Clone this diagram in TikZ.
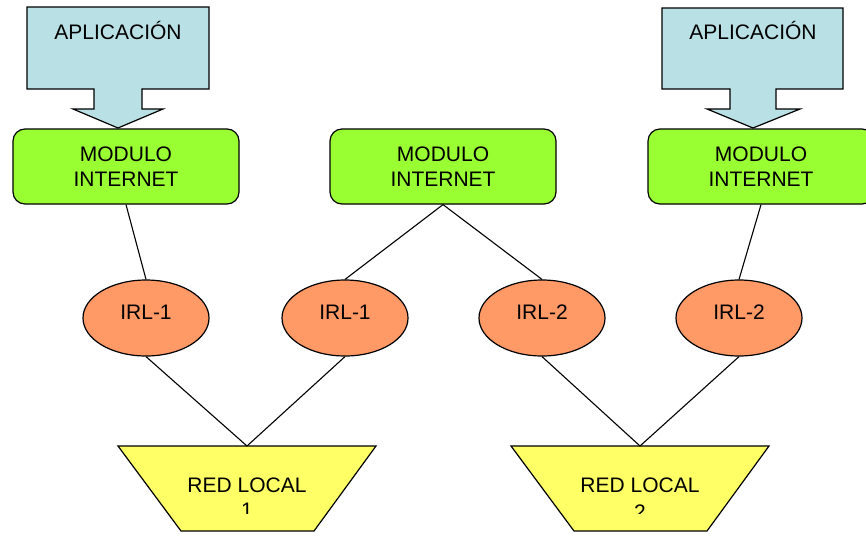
\documentclass[tikz,border=0pt]{standalone}
\usepackage{fontspec}
\setmainfont{Liberation Sans}
\usetikzlibrary{shapes.geometric}
\definecolor{appblue}{HTML}{B9E0E4}
\definecolor{modgreen}{HTML}{99FF33}
\definecolor{irlorange}{HTML}{FF9966}
\definecolor{lanyellow}{HTML}{FFFF66}
\tikzset{
  outline/.style={draw=black, line width=1.2pt, line join=miter},
  txt/.style={font=\fontsize{21}{25}\selectfont, inner sep=0pt, text=black},
  modbox/.style={outline, fill=modgreen, rounded corners=12pt,
    minimum width=226pt, minimum height=75pt, align=center, txt},
  irl/.style={outline, fill=irlorange, ellipse, minimum width=126pt,
    minimum height=76pt, txt, text height=15pt, text depth=12pt},
  link/.style={draw=black, line width=1.1pt},
}
\begin{document}
\begin{tikzpicture}[x=1pt,y=-1pt]
\useasboundingbox (0,0) rectangle (866,538);

% application boxes with their down-pointing arrows
\draw[outline, fill=appblue] (27,7) -- (209,7) -- (209,89) -- (142,89) -- (142,109)
  -- (163,109) -- (118,128) -- (73,109) -- (94,109) -- (94,89) -- (27,89) -- cycle;
\node[txt, anchor=base] (app1) at (118,39) {APLICACIÓN};
\draw[outline, fill=appblue] (662,8) -- (843,8) -- (843,89) -- (776,89) -- (776,109)
  -- (800,109) -- (753,128) -- (707,109) -- (730,109) -- (730,89) -- (662,89) -- cycle;
\node[txt, anchor=base] (app2) at (753,39) {APLICACIÓN};

% internet modules
\node[modbox] (mod1) at (126,166.5) {MODULO\\INTERNET};
\node[modbox] (mod2) at (443,166.5) {MODULO\\INTERNET};
\node[modbox] (mod3) at (761,166.5) {MODULO\\INTERNET};

% IRL interfaces
\node[irl] (irl1) at (146,318) {IRL-1};
\node[irl] (irl2) at (345,318) {IRL-1};
\node[irl] (irl3) at (542,318) {IRL-2};
\node[irl] (irl4) at (739,318) {IRL-2};

% local networks
\draw[outline, fill=lanyellow] (118,446) -- (376,446) -- (314,531) -- (181,531) -- cycle;
\coordinate (lan1) at (247,446);
\draw[outline, fill=lanyellow] (511,446) -- (769,446) -- (707,531) -- (574,531) -- cycle;
\coordinate (lan2) at (640,446);
\node[txt, anchor=base] (lan1a) at (247,492) {RED LOCAL};
\node[txt, anchor=base] (lan2a) at (640,492) {RED LOCAL};
\begin{scope}
  \clip (0,0) rectangle (866,513);
  \node[txt, anchor=base] (lan1b) at (247,517) {1};
  \node[txt, anchor=base] (lan2b) at (640,519) {2};
\end{scope}

% links
\draw[link] (mod1.south) -- (irl1.north);
\draw[link] (mod2.south) -- (irl2.north);
\draw[link] (mod2.south) -- (irl3.north);
\draw[link] (mod3.south) -- (irl4.north);
\draw[link] (irl1.south) -- (lan1);
\draw[link] (irl2.south) -- (lan1);
\draw[link] (irl3.south) -- (lan2);
\draw[link] (irl4.south) -- (lan2);
\end{tikzpicture}
\end{document}
